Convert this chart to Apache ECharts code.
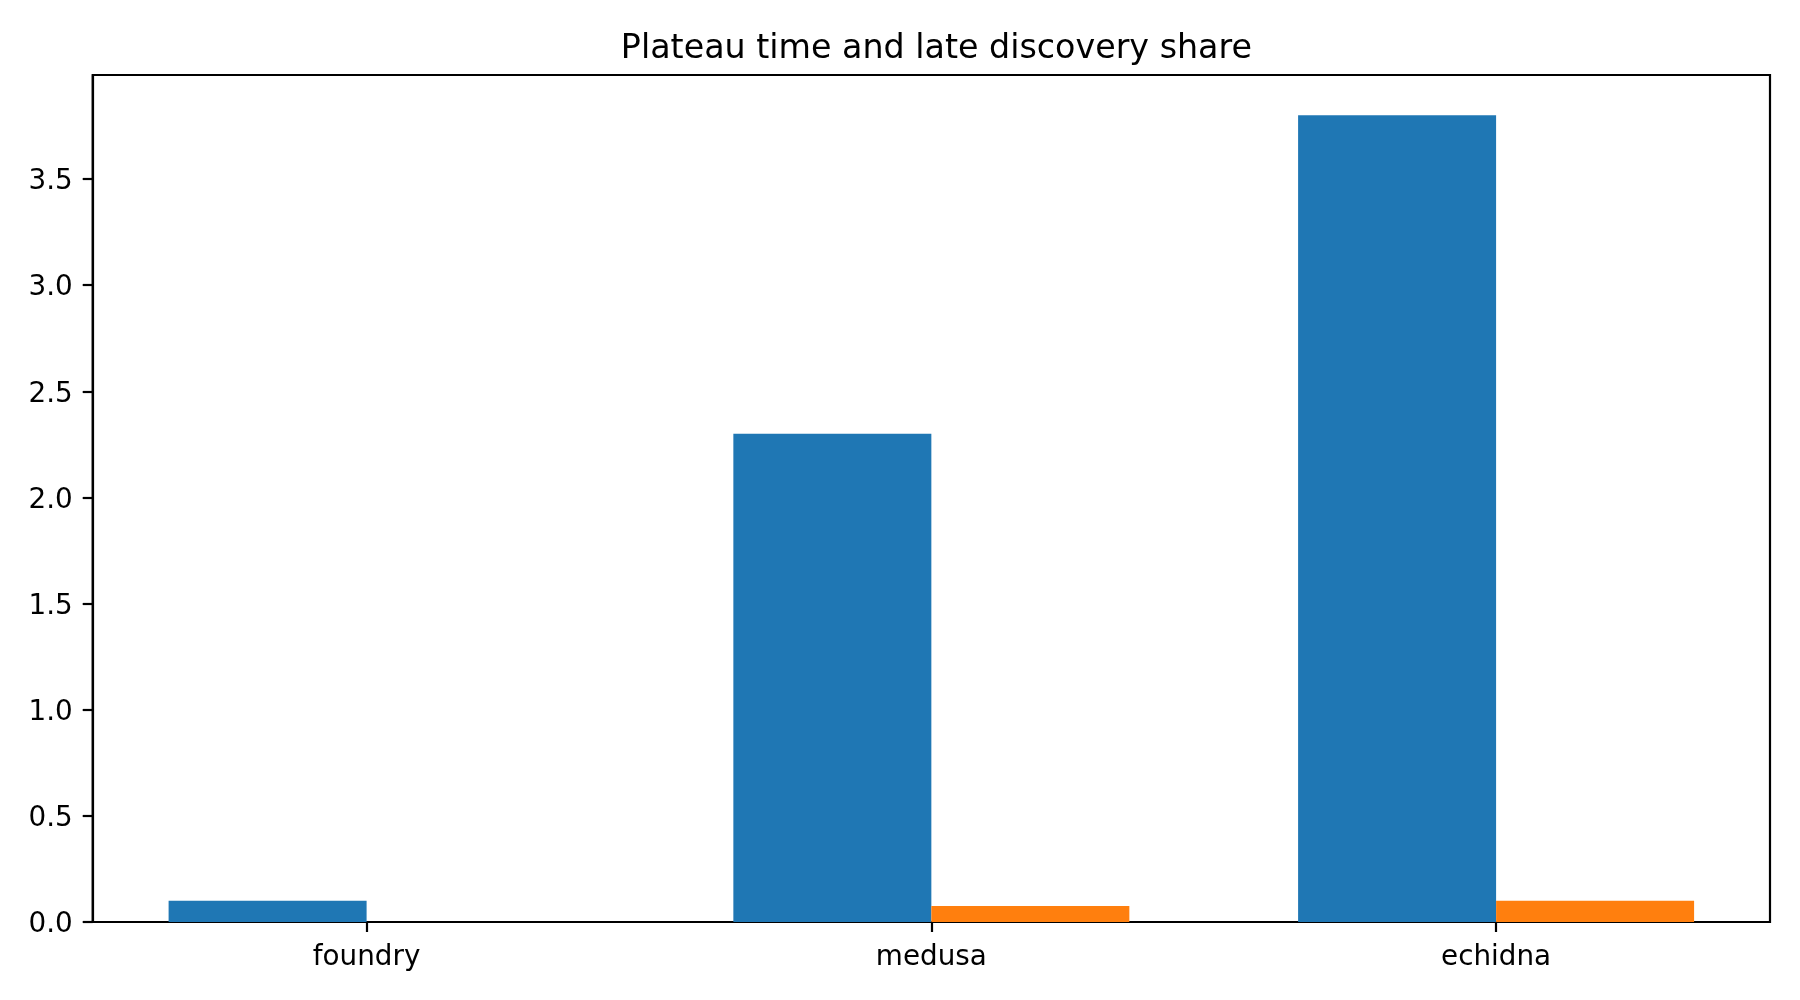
<!DOCTYPE html>
<html>
<head>
<meta charset="utf-8">
<script src="https://cdn.jsdelivr.net/npm/echarts@6/dist/echarts.min.js"></script>
<style>
html, body { margin: 0; padding: 0; background: #fff; }
#chart { width: 1800px; height: 1000px; }
</style>
</head>
<body>
<div id="chart"></div>
<script>
const titleText = 'Plateau time and late discovery share';
const categories = ['foundry', 'medusa', 'echidna'];
const plateauTime = [0.1, 2.3, 3.8];
const lateShare = [0, 0.075, 0.1];
const yTicks = [0, 0.5, 1.0, 1.5, 2.0, 2.5, 3.0, 3.5];
const xTicks = [0, 1, 2];

const FONT = 'DejaVu Sans';
const chart = echarts.init(document.getElementById('chart'), null, { renderer: 'canvas' });

const toPairs = arr => arr.map((v, i) => [i, v]);

chart.setOption({
  animation: false,
  backgroundColor: '#fff',
  title: {
    text: titleText,
    left: 931.4,
    textAlign: 'center',
    top: 28,
    textStyle: { fontFamily: FONT, fontSize: 33.3, fontWeight: 'normal', color: '#000' }
  },
  grid: {
    left: 92.7, right: 30, top: 75, bottom: 78,
    show: true, borderColor: '#000', borderWidth: 2.2, backgroundColor: 'transparent'
  },
  xAxis: {
    type: 'value',
    min: -0.485,
    max: 2.485,
    splitLine: { show: false },
    axisLine: { show: true, onZero: false, lineStyle: { color: '#000', width: 2.2 } },
    axisTick: { show: true, customValues: xTicks, length: 10, lineStyle: { color: '#000', width: 2.2 } },
    axisLabel: {
      customValues: xTicks,
      formatter: v => categories[Math.round(v)] || '',
      margin: 22,
      fontFamily: FONT, fontSize: 27.8, color: '#000'
    }
  },
  yAxis: {
    type: 'value',
    min: 0,
    max: 3.99,
    splitLine: { show: false },
    axisLine: { show: true, onZero: false, lineStyle: { color: '#000', width: 2.2 } },
    axisTick: { show: true, customValues: yTicks, length: 10, lineStyle: { color: '#000', width: 2.2 } },
    axisLabel: {
      customValues: yTicks,
      formatter: v => v.toFixed(1),
      margin: 20,
      verticalAlign: 'top',
      lineHeight: 6,
      fontFamily: FONT, fontSize: 27.8, color: '#000'
    }
  },
  series: [
    {
      name: 'Plateau time',
      type: 'bar',
      data: toPairs(plateauTime),
      barWidth: 198,
      barGap: '0%',
      itemStyle: { color: '#1f77b4' }
    },
    {
      name: 'Late discovery share',
      type: 'bar',
      data: toPairs(lateShare),
      barWidth: 198,
      barGap: '0%',
      itemStyle: { color: '#ff7f0e' }
    }
  ]
});
</script>
</body>
</html>
